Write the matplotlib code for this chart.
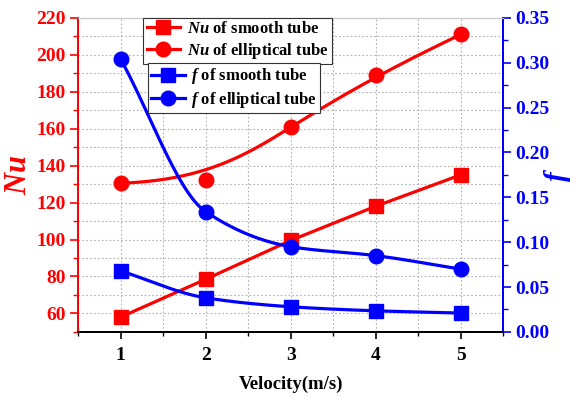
import numpy as np
import matplotlib
matplotlib.use("Agg")
import matplotlib.pyplot as plt
from matplotlib.ticker import MultipleLocator
from matplotlib.lines import Line2D

velocity = [1, 2, 3, 4, 5]
nu_smooth = [58, 78.5, 99.5, 118, 135]
nu_ellip = [130.5, 132, 161, 189, 211]
f_smooth = [0.068, 0.038, 0.028, 0.0235, 0.021]
f_ellip = [0.304, 0.134, 0.095, 0.085, 0.070]
x_ticks = [1, 2, 3, 4, 5]
nu_ticks = [60, 80, 100, 120, 140, 160, 180, 200, 220]
f_ticks = [0, 0.05, 0.10, 0.15, 0.20, 0.25, 0.30, 0.35]

plt.rcParams['font.family'] = ['Liberation Serif', 'DejaVu Serif']
plt.rcParams['font.weight'] = 'bold'
plt.rcParams['mathtext.fontset'] = 'custom'
plt.rcParams['mathtext.it'] = 'Liberation Serif:italic:bold'
plt.rcParams['mathtext.rm'] = 'Liberation Serif:bold'

RED = '#ff0000'
BLUE = '#0000ff'


def bspline(x, y, n=200):
    # clamped cubic B-spline, data used as control points (like Origin's B-spline line)
    P = np.column_stack([x, y]).astype(float)
    k = 3
    m = len(P)
    knots = np.concatenate([[0] * k, np.arange(m - k + 1), [m - k] * k]).astype(float)
    out = []
    for t in np.linspace(0, m - k, n):
        i = min(np.searchsorted(knots, t, side='right') - 1, m - 1)
        d = [P[j + i - k].copy() for j in range(k + 1)]
        for r in range(1, k + 1):
            for j in range(k, r - 1, -1):
                a = (t - knots[j + i - k]) / (knots[j + 1 + i - r] - knots[j + i - k])
                d[j] = (1 - a) * d[j - 1] + a * d[j]
        out.append(d[k])
    out = np.array(out)
    return out[:, 0], out[:, 1]


def pchip(x, y, n=200):
    # shape preserving cubic through the points
    x = np.asarray(x, float)
    y = np.asarray(y, float)
    h = np.diff(x)
    s = np.diff(y) / h
    d = np.zeros_like(y)
    for i in range(1, len(x) - 1):
        if s[i - 1] * s[i] > 0:
            w1 = 2 * h[i] + h[i - 1]
            w2 = h[i] + 2 * h[i - 1]
            d[i] = (w1 + w2) / (w1 / s[i - 1] + w2 / s[i])
    d[0] = s[0]
    d[-1] = s[-1]
    xs = np.linspace(x[0], x[-1], n)
    idx = np.clip(np.searchsorted(x, xs) - 1, 0, len(x) - 2)
    t = (xs - x[idx]) / h[idx]
    h00 = 2 * t**3 - 3 * t**2 + 1
    h10 = t**3 - 2 * t**2 + t
    h01 = -2 * t**3 + 3 * t**2
    h11 = t**3 - t**2
    ys = h00 * y[idx] + h10 * h[idx] * d[idx] + h01 * y[idx + 1] + h11 * h[idx] * d[idx + 1]
    return xs, ys


fig, ax = plt.subplots(figsize=(5.79, 3.97), dpi=100)
fig.subplots_adjust(left=0.135, right=0.869, top=0.955, bottom=0.164)
ax2 = ax.twinx()

LW = 2.3
ax.plot(velocity, nu_smooth, color=RED, lw=LW, marker='s', ms=9.5, zorder=3)
bx, by = bspline(velocity, nu_ellip)
ax.plot(bx, by, color=RED, lw=LW, zorder=3)
ax.plot(velocity, nu_ellip, ls='none', color=RED, marker='o', ms=10.5, zorder=3)

bx, by = pchip(velocity, f_smooth)
ax2.plot(bx, by, color=BLUE, lw=LW)
ax2.plot(velocity, f_smooth, ls='none', color=BLUE, marker='s', ms=9.5)
bx, by = pchip(velocity, f_ellip)
ax2.plot(bx, by, color=BLUE, lw=LW)
ax2.plot(velocity, f_ellip, ls='none', color=BLUE, marker='o', ms=10.5)

ax.set_xlim(0.5, 5.5)
ax.set_ylim(50, 220)
ax2.set_ylim(0, 0.35)
ax.xaxis.set_minor_locator(MultipleLocator(0.5))
ax.yaxis.set_minor_locator(MultipleLocator(10))
ax2.yaxis.set_minor_locator(MultipleLocator(0.025))
ax.set_xticks(x_ticks, labels=[str(v) for v in x_ticks], fontweight='bold')
ax.set_yticks(nu_ticks, labels=[str(v) for v in nu_ticks], fontweight='bold')
ax2.set_yticks(f_ticks, labels=['%.2f' % v for v in f_ticks], fontweight='bold')

ax.grid(True, which='both', ls=(0, (1.5, 2)), color='#b0b0b0', lw=0.8)
ax.set_axisbelow(True)

ax.tick_params(axis='y', which='both', colors=RED, labelsize=14, direction='out', pad=3)
ax.tick_params(axis='y', which='major', length=6, width=1.2)
ax.tick_params(axis='y', which='minor', length=3.5, width=1)
ax.tick_params(axis='x', which='both', colors='black', labelsize=14, direction='out', pad=6)
ax.tick_params(axis='x', which='major', length=5, width=1.2)
ax.tick_params(axis='x', which='minor', length=3, width=1)
ax2.tick_params(axis='y', which='both', colors=BLUE, labelsize=14, direction='out', pad=3)
ax2.tick_params(axis='y', which='major', length=6, width=1.2)
ax2.tick_params(axis='y', which='minor', length=3.5, width=1)

for a in (ax, ax2):
    a.spines['left'].set_color(RED)
    a.spines['right'].set_color(BLUE)
    a.spines['top'].set_color('#c8c8c8')
    a.spines['bottom'].set_color('black')
    for s in ('left', 'right', 'bottom'):
        a.spines[s].set_linewidth(1.4)

ax.set_ylabel('$Nu$', color=RED, fontsize=22, labelpad=2)
ax2.set_ylabel('$f$', color=BLUE, fontsize=21, labelpad=-6)
ax.set_xlabel('Velocity(m/s)', fontsize=13.5, fontweight='bold', labelpad=8)

legkw = dict(loc='upper left', fontsize=12, fancybox=False, edgecolor='#333333',
             framealpha=1, handlelength=2.0, borderpad=0.2, labelspacing=0.2,
             handletextpad=0.4, borderaxespad=0)
h1 = [Line2D([], [], color=RED, lw=LW, marker='s', ms=9.5),
      Line2D([], [], color=RED, lw=LW, marker='o', ms=10.5)]
leg1 = ax2.legend(h1, ['$Nu$ of smooth tube', '$Nu$ of elliptical tube'],
                  bbox_to_anchor=(0.153, 1.0), **legkw)
leg1.get_frame().set_linewidth(0.8)
ax2.add_artist(leg1)
h2 = [Line2D([], [], color=BLUE, lw=LW, marker='s', ms=9.5),
      Line2D([], [], color=BLUE, lw=LW, marker='o', ms=10.5)]
leg2 = ax2.legend(h2, ['$f$ of smooth tube', '$f$ of elliptical tube'],
                  bbox_to_anchor=(0.164, 0.856), **legkw)
leg2.get_frame().set_linewidth(0.8)

plt.savefig('out.png', dpi=100)
